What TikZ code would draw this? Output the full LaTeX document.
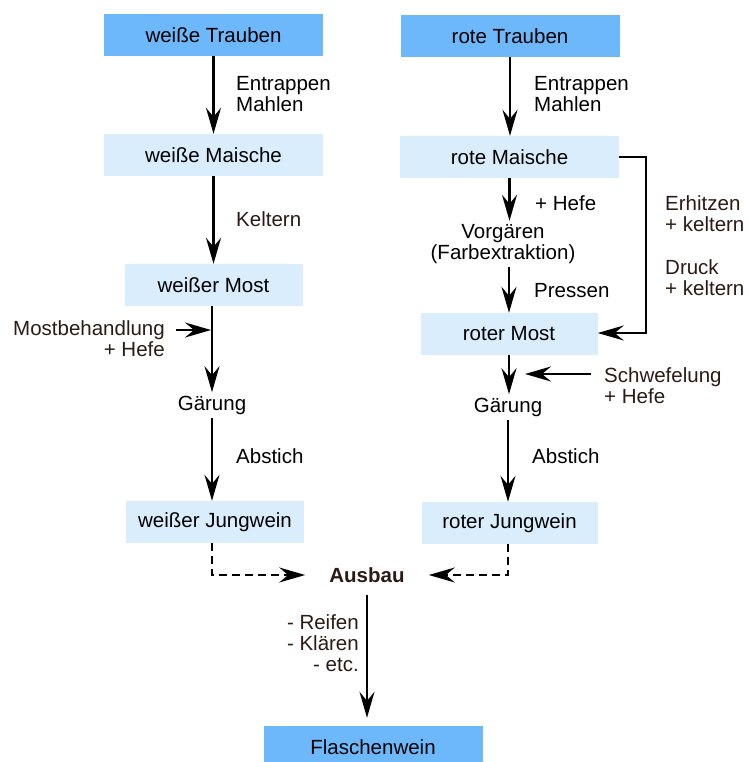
\documentclass[tikz,border=0pt]{standalone}
\usepackage{fontspec}
\setmainfont{Liberation Sans}
\usetikzlibrary{arrows.meta}
\definecolor{traubenblau}{HTML}{6CB8FA}
\definecolor{mostblau}{HTML}{D9EDFC}
\definecolor{dunkelbraun}{HTML}{2B1B14}

\tikzset{
  kasten/.style={minimum height=42pt, inner sep=0pt, text=black},
  hauptkasten/.style={kasten, fill=traubenblau, minimum width=219pt},
  zwischenkasten/.style={kasten, fill=mostblau},
  etikett/.style={inner sep=0pt, align=left, anchor=west},
  schritt/.style={align=center},
  fluss/.style={line width=2.2pt, -{Stealth[length=26pt,width=15pt,inset=9pt]}},
  strichfluss/.style={fluss, dash pattern=on 8pt off 5pt}
}

\begin{document}
\begin{tikzpicture}[x=1pt, y=-1pt, font=\fontsize{20.5}{21}\selectfont]
  \useasboundingbox (0,0) rectangle (747,762);

  % Kaesten
  \node[hauptkasten] (wtr) at (213.5,35) {weiße Trauben};
  \node[hauptkasten] (rtr) at (510,36) {rote Trauben};
  \node[zwischenkasten, minimum width=219pt] (wmai) at (213.5,155) {weiße Maische};
  \node[zwischenkasten, minimum width=219pt] (rmai) at (509.5,157) {rote Maische};
  \node[zwischenkasten, minimum width=178pt] (wmost) at (213.5,285) {weißer Most};
  \node[zwischenkasten, minimum width=177pt] (rmost) at (509,334) {roter Most};
  \node[zwischenkasten, minimum width=178pt] (wjung) at (215,522) {weißer Jungwein};
  \node[zwischenkasten, minimum width=176pt] (rjung) at (509.5,523) {roter Jungwein};
  \node[hauptkasten] (flasche) at (373,747) {Flaschenwein};

  % Zwischenschritte
  \node[schritt] (wgaer) at (212,405) {Gärung};
  \node[schritt] (rgaer) at (508,407) {Gärung};
  \node[schritt] (rvor) at (503,244) {Vorgären\\(Farbextraktion)};
  \node[schritt, font=\fontsize{20.5}{21}\selectfont\bfseries, text=dunkelbraun,
        inner xsep=24pt, inner ysep=12pt] (ausbau) at (367,575) {Ausbau};

  % Beschriftungen
  \node[etikett] (wentr) at (236,94) {Entrappen\\Mahlen};
  \node[etikett] (rentr) at (534,94) {Entrappen\\Mahlen};
  \node[etikett, text=dunkelbraun] (kelt) at (236,219) {Keltern};
  \node[etikett] (rhefe) at (535,203) {+ Hefe};
  \node[etikett] (press) at (534,291) {Pressen};
  \node[etikett, text=dunkelbraun] (erh) at (665,214) {Erhitzen\\+ keltern};
  \node[etikett, text=dunkelbraun] (druck) at (665,278) {Druck\\+ keltern};
  \node[etikett, text=dunkelbraun, anchor=east, align=right] (mostb) at (165,339) {Mostbehandlung\\+ Hefe};
  \node[etikett, text=dunkelbraun] (schwef) at (604,386) {Schwefelung\\+ Hefe};
  \node[etikett] (wabst) at (236,456) {Abstich};
  \node[etikett] (rabst) at (532,456) {Abstich};
  \node[etikett, text=dunkelbraun, anchor=east, align=right] (reif) at (359,643) {- Reifen\\- Klären\\- etc.};

  % weisse Seite
  \draw[fluss] (wtr) -- (wmai);
  \draw[fluss] (wmai) -- (wmost);
  \draw[fluss] (wmost.south -| wgaer) -- (wgaer);
  \draw[fluss] (wgaer) -- (wgaer |- wjung.north);
  \coordinate (mbstart) at (176,330);
  \draw[fluss, shorten >=1pt] (mbstart) -- (mbstart -| wgaer);

  % rote Seite
  \draw[fluss] (rtr) -- (rtr |- rmai.north);
  \draw[fluss] (rmai) -- (rmai |- rvor.north);
  \draw[fluss] (rvor.south -| rmost) -- (rmost);
  \draw[fluss] (rmost) -- (rmost |- rgaer.north);
  \draw[fluss] (rgaer) -- (rgaer |- rjung.north);
  \coordinate (knick) at (646,333);
  \draw[fluss] (rmai.east) -| (knick) -- (rmost.east |- knick);
  \coordinate (swstart) at (591,374);
  \coordinate (swende) at (525,374);
  \draw[fluss] (swstart) -- (swende);

  % Ausbau
  \draw[strichfluss] (wjung.south -| wgaer) |- (ausbau.west);
  \draw[strichfluss] (rjung.south -| rgaer) |- (ausbau.east);
  \draw[fluss, shorten >=8pt] (ausbau) -- (ausbau |- flasche.north);
\end{tikzpicture}
\end{document}
